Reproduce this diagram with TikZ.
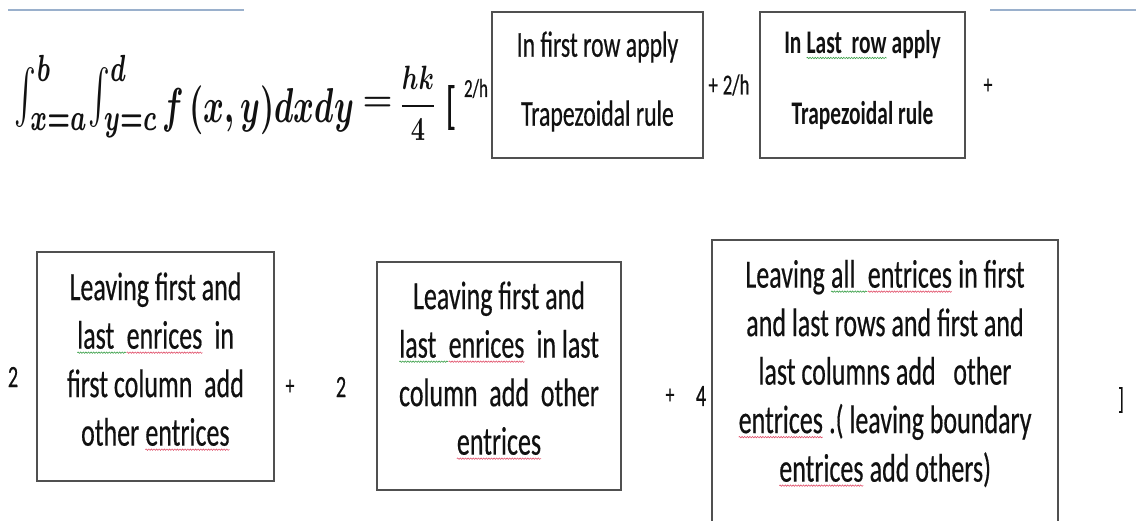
\documentclass[tikz,border=0pt]{standalone}
\usepackage{fontspec}
\usepackage{amsmath}
\usepackage{graphicx}
\setmainfont{Carlito}[FakeStretch=0.65,UprightFeatures={FakeBold=0.4}]
\usetikzlibrary{decorations.pathmorphing}
\definecolor{boxgray}{HTML}{505050}
\definecolor{rulebl}{HTML}{9AB0CC}
\definecolor{sqred}{HTML}{E0506A}
\definecolor{sqgreen}{HTML}{3CA04A}
\definecolor{inkc}{HTML}{111111}
\newcommand\squig[2]{\tikz[baseline=(sw.base)]{\node[inner sep=0pt,outer sep=0pt] (sw) {#2};\draw[#1,line width=0.6pt,decorate,decoration={snake,amplitude=0.7pt,segment length=2.6pt}] ([yshift=-4pt]sw.base west) -- ([yshift=-4pt]sw.base east);}}
\begin{document}
\begin{tikzpicture}[x=1pt,y=-1pt,
  box/.style={draw=boxgray,line width=1.4pt,inner sep=0pt},
  txt/.style={align=center,inner sep=0pt,text=inkc,font=\fontsize{40}{48.5}\selectfont},
  toptxt/.style={align=center,inner sep=0pt,text=inkc,font=\fontsize{36.5}{69}\selectfont},
  toptxtb/.style={align=center,inner sep=0pt,text=inkc,font=\fontsize{33}{71}\selectfont\bfseries},
  lab/.style={inner sep=0pt,text=inkc,font=\fontsize{31}{34}\selectfont},
  pl/.style={inner sep=0pt,text=inkc,font=\fontsize{27}{30}\selectfont},
  smlab/.style={inner sep=0pt,text=inkc,font=\fontsize{29}{32}\selectfont},
  mth/.style={inner sep=0pt,outer sep=0pt,text=inkc},
  rulel/.style={draw=rulebl,line width=1.2pt}]
\useasboundingbox (0,0) rectangle (1136,520);
\begin{scope}
\clip (0,0) rectangle (1136,520);
% top rules
\coordinate (l1a) at (8,10);
\coordinate (l1b) at (244,10);
\coordinate (l2a) at (990,10);
\coordinate (l2b) at (1136,10);
\draw[rulel] (l1a) -- (l1b);
\draw[rulel] (l2a) -- (l2b);
% formula
\node[mth,anchor=north west] (eqi) at (15,55)
  {\resizebox*{143pt}{83pt}{\boldmath$\int_{x=a}^{b}\!\int_{y=c}^{d}$}};
\node[mth,anchor=north west] (eqf) at (162,86)
  {\resizebox*{192pt}{49pt}{\boldmath$f\,(x,y)dxdy$}};
\node[mth] (eqe) at (377.5,104)
  {\resizebox{30pt}{!}{\boldmath$=$}};
\node[mth,anchor=north west] (eqq) at (399,66)
  {\resizebox*{38pt}{74pt}{\boldmath$\dfrac{hk}{4}$}};
\node[pl,font=\fontsize{52}{56}\selectfont] (lbr) at (451,107.5) {[};
\node[lab,font=\fontsize{26}{30}\selectfont] (c1) at (476,88.5) {2/h};
% top boxes
\node[box,minimum width=211pt,minimum height=146pt] (b1) at (597.5,85) {};
\node[toptxt] (t1) at (597.5,81.5) {In first row apply\\Trapezoidal rule};
\node[smlab] (c2) at (729,85) {+\,2/h};
\node[box,minimum width=205pt,minimum height=146pt] (b2) at (862.5,85) {};
\node[toptxtb] (t2) at (862.5,80.5) {In \squig{sqgreen}{Last\ \ row} apply\\Trapezoidal rule};
\node[pl] (p1) at (988,86) {+};
% bottom row
\node[lab] (c3) at (13,377) {2};
\node[box,minimum width=237pt,minimum height=229pt] (b3) at (155.5,366.5) {};
\node[txt] (t3) at (155.5,361.5) {Leaving first and\\\squig{sqgreen}{last\ \ }\squig{sqred}{enrices}\ \ in\\first column\ \ add\\other \squig{sqred}{entrices}};
\node[pl] (p2) at (290,387) {+};
\node[lab] (c4) at (341,387) {2};
\node[box,minimum width=244pt,minimum height=228pt] (b4) at (499,376) {};
\node[txt] (t4) at (499,370.5) {Leaving first and\\\squig{sqgreen}{last\ \ }\squig{sqred}{enrices}\ \ in last\\column\ \ add\ \ other\\\squig{sqred}{entrices}};
\node[pl] (p3) at (670,396) {+};
\node[lab] (c5) at (701,396) {4};
\node[box,minimum width=346pt,minimum height=300pt] (b5) at (885,390) {};
\node[txt] (t5) at (885,373.5) {Leaving \squig{sqgreen}{all\ \ }\squig{sqred}{entrices} in first\\and last rows and first and\\last columns add\ \ \ other\\\squig{sqred}{entrices} .( leaving boundary\\\squig{sqred}{entrices} add others)};
\node[pl,font=\fontsize{30}{32}\selectfont] (rbr) at (1121,400) {]};
\end{scope}
\end{tikzpicture}
\end{document}
